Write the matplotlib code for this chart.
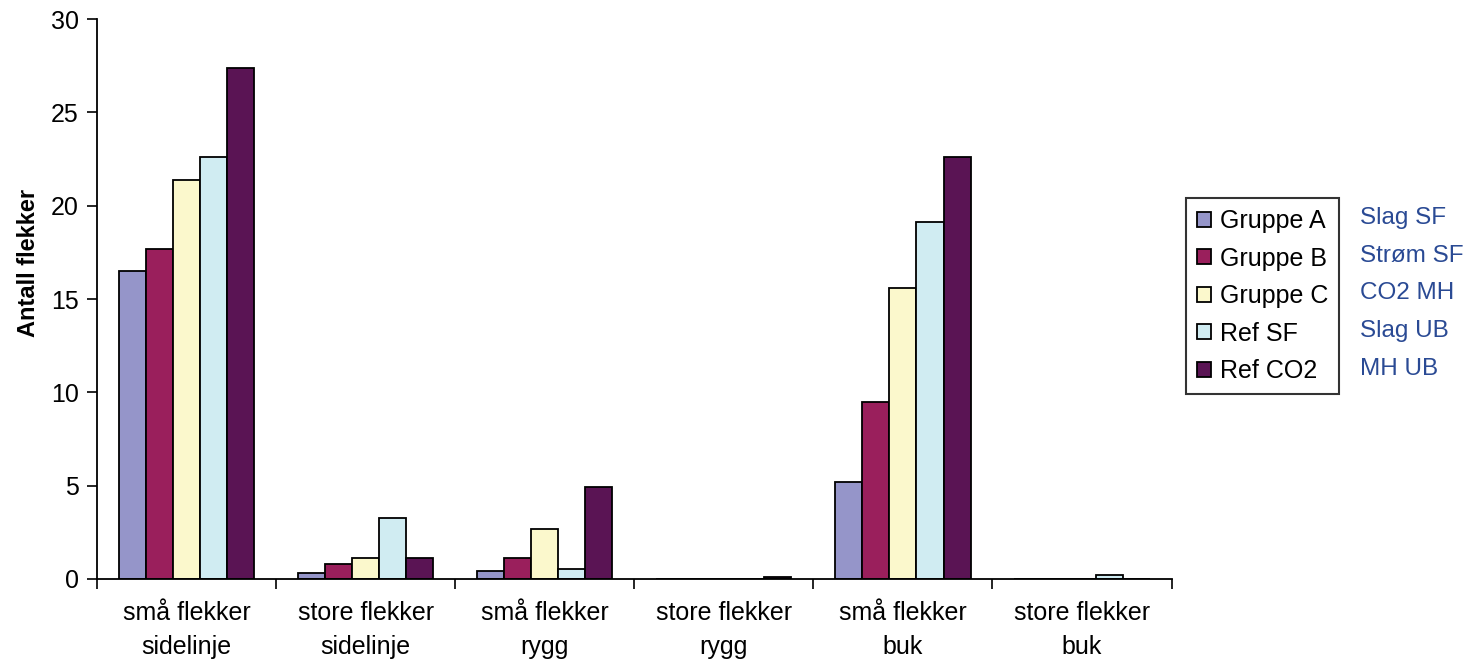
import numpy as np
import matplotlib
matplotlib.use("Agg")
import matplotlib.pyplot as plt

plt.rcParams['font.family'] = ['Liberation Sans', 'DejaVu Sans']

categories = ["små flekker\nsidelinje", "store flekker\nsidelinje", "små flekker\nrygg",
              "store flekker\nrygg", "små flekker\nbuk", "store flekker\nbuk"]
series_names = ["Gruppe A", "Gruppe B", "Gruppe C", "Ref SF", "Ref CO2"]
gruppe_a = [16.5, 0.3, 0.45, 0.0, 5.2, 0.0]
gruppe_b = [17.7, 0.8, 1.15, 0.0, 9.5, 0.0]
gruppe_c = [21.4, 1.15, 2.7, 0.0, 15.6, 0.0]
ref_sf = [22.6, 3.25, 0.55, 0.0, 19.1, 0.2]
ref_co2 = [27.4, 1.15, 4.95, 0.1, 22.6, 0.0]
side_labels = ["Slag SF", "Strøm SF", "CO2 MH", "Slag UB", "MH UB"]

colors = ["#9595c9", "#9a1f5c", "#fbf8cc", "#d0ecf2", "#5a1454"]
values = [gruppe_a, gruppe_b, gruppe_c, ref_sf, ref_co2]

fig = plt.figure(figsize=(14.7, 6.63), dpi=100)
ax = fig.add_axes([0.066, 0.1267, 0.731, 0.8446])

x = np.arange(len(categories))
w = 0.151
for i, (vals, name, c) in enumerate(zip(values, series_names, colors)):
    ax.bar(x + (i - 2) * w, vals, w, color=c, edgecolor="black", linewidth=1.3, label=name)

ax.set_xlim(-0.5, len(categories) - 0.5)
ax.set_ylim(0, 30)
ax.set_yticks(range(0, 31, 5))
ax.set_xticks(np.arange(-0.5, len(categories), 1.0))
ax.set_xticklabels([])
ax.set_xticks(x, minor=True)
ax.set_xticklabels(categories, minor=True, fontsize=18, linespacing=1.5)
ax.tick_params(axis="x", which="minor", length=0, pad=16)
ax.tick_params(axis="x", which="major", length=7, width=1.2, direction="out")
ax.tick_params(axis="y", length=7, width=1.2, labelsize=18, pad=6)

for side in ("top", "right"):
    ax.spines[side].set_visible(False)
for side in ("left", "bottom"):
    ax.spines[side].set_linewidth(1.3)

ax.set_ylabel("Antall flekker", fontsize=17, fontweight="bold")
ax.yaxis.set_label_coords(-0.053, 0.565)

leg = fig.legend(loc="upper left", bbox_to_anchor=(0.8068, 0.7014), fontsize=18,
                 frameon=True, fancybox=False, edgecolor="black", handlelength=0.55,
                 handleheight=0.55, handletextpad=0.35, labelspacing=0.54,
                 borderpad=0.45, borderaxespad=0)
leg.get_frame().set_linewidth(1.5)

for i, txt in enumerate(side_labels):
    fig.text(1360 / 1470, 1 - (218 + i * 37.7) / 663, txt, fontsize=17.5,
             color="#2a4a94", va="center", ha="left")

fig.savefig("out.png", dpi=100)
